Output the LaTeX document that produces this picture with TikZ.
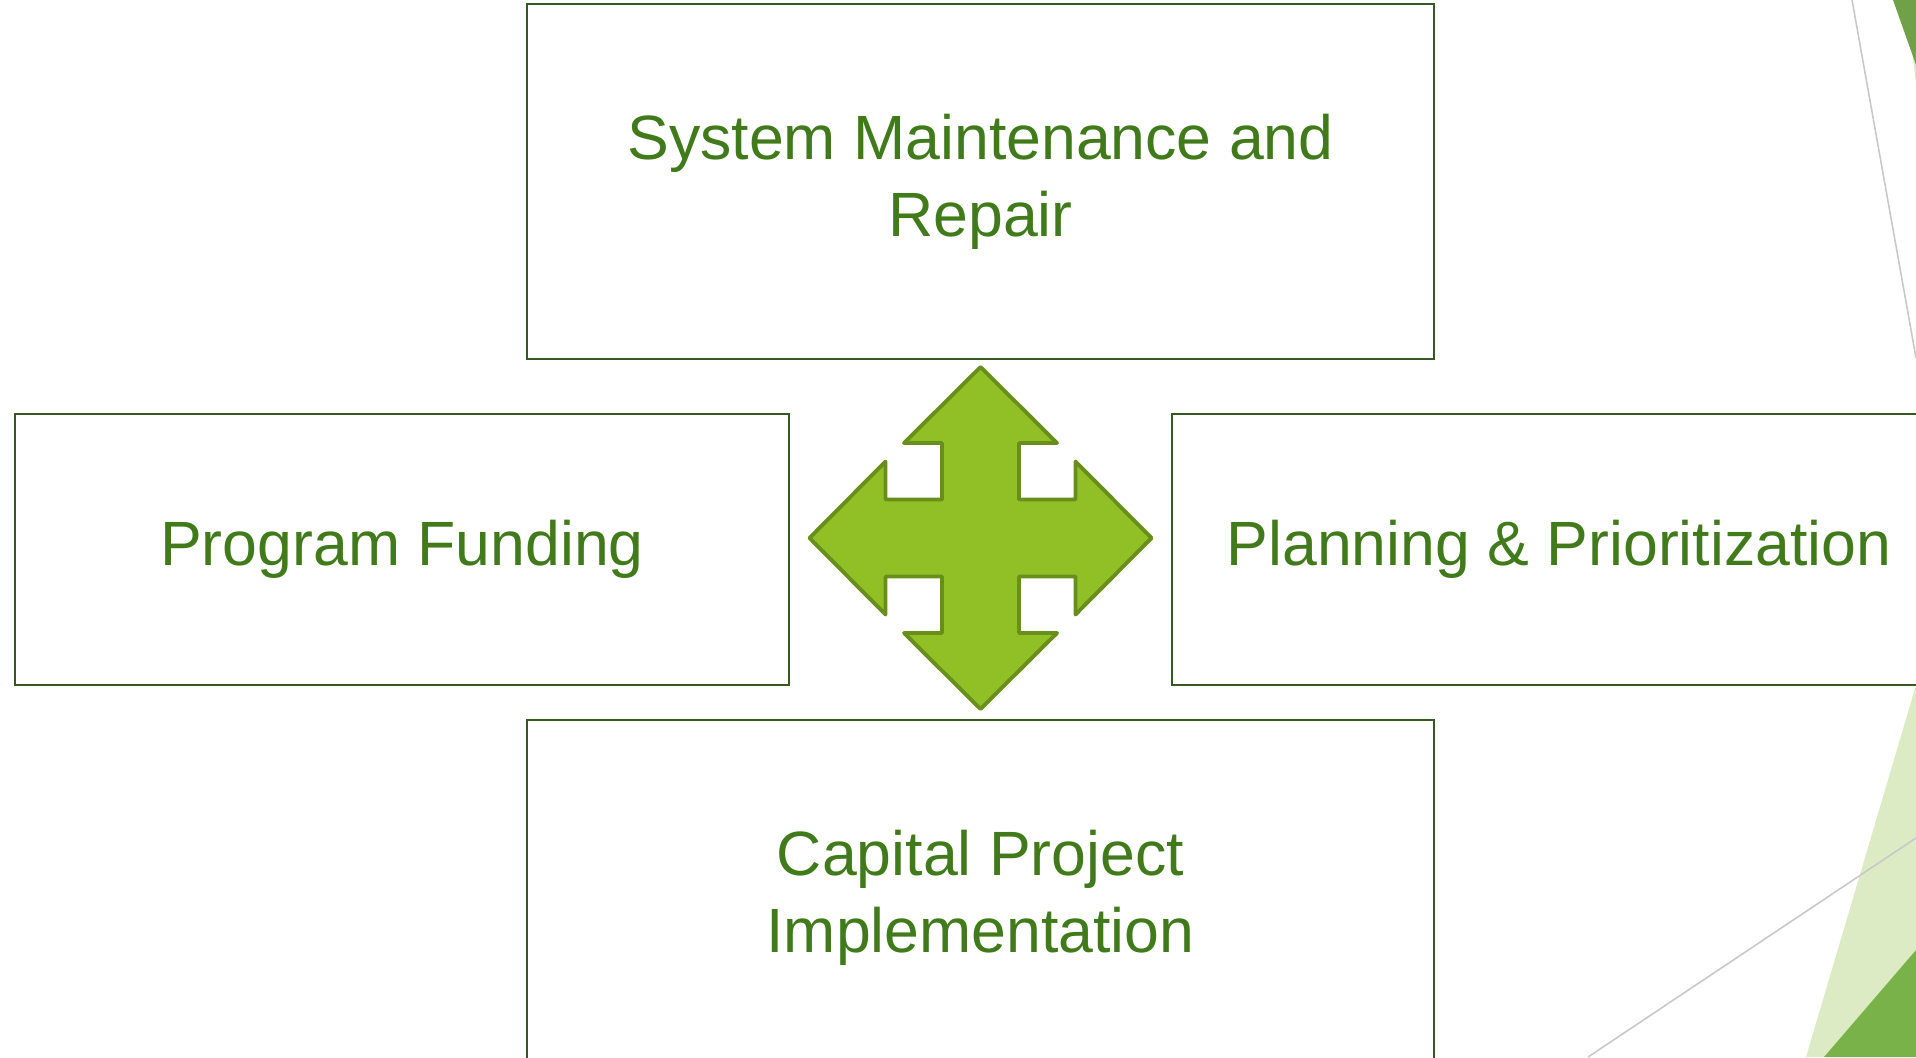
\documentclass[tikz,border=0pt]{standalone}
\usepackage{fontspec}
\setmainfont{Liberation Sans}
\definecolor{txtgreen}{RGB}{64,122,26}
\definecolor{boxgreen}{RGB}{56,87,35}
\definecolor{arrfill}{RGB}{145,192,38}
\definecolor{arrline}{RGB}{104,142,28}
\definecolor{facetdark}{RGB}{122,178,74}
\definecolor{facettop}{RGB}{112,160,72}
\definecolor{facetlight}{RGB}{221,235,196}
\definecolor{facetline}{RGB}{200,200,200}

\begin{document}
\begin{tikzpicture}[x=0.01cm, y=-0.01cm,
    box/.style = {draw=boxgreen, line width=0.6pt, text=txtgreen, align=center,
                  font=\fontsize{17.8}{22}\selectfont, inner sep=0pt},
    bigbox/.style = {box, minimum width=9.07cm, minimum height=3.55cm},
    sidebox/.style = {box, minimum width=7.74cm, minimum height=2.71cm}]
    \useasboundingbox (0,0) rectangle (1916,1057);
    \clip (0,0) rectangle (1916,1057);

    \fill[facetlight] (1905,0) -- (1916,82) -- (1916,0) -- cycle;
    \fill[facettop]   (1893,0) -- (1916,65) -- (1916,0) -- cycle;
    \fill[facetlight] (1916,685) -- (1806,1057) -- (1916,1057) -- cycle;
    \fill[facetdark]  (1916,950) -- (1824,1057) -- (1916,1057) -- cycle;
    \draw[facetline, line width=0.45pt] (1852,0) -- (1916,358);
    \draw[facetline, line width=0.45pt] (1916,838) -- (1588,1057);

    \node (sys)  [bigbox]  at (980.5,181.5) {System Maintenance and\\Repair};
    \node (fund) [sidebox] at (402,549.5)   {Program Funding};
    \node (plan) [sidebox] at (1559,549.5)  {Planning \& Prioritization};
    \node (cap)  [bigbox]  at (980.5,897.5) {Capital Project\\Implementation};

    \coordinate (ctr) at (980.5,538);
    \filldraw[fill=arrfill, draw=arrline, line width=1.1pt, line join=round, shift={(ctr)}]
        (0,-171) -- (76.5,-95) -- (38.5,-95) -- (38.5,-38.5) -- (95,-38.5) -- (95,-76.5) -- (171,0)
        -- (95,76.5) -- (95,38.5) -- (38.5,38.5) -- (38.5,95) -- (76.5,95) -- (0,171)
        -- (-76.5,95) -- (-38.5,95) -- (-38.5,38.5) -- (-95,38.5) -- (-95,76.5) -- (-171,0)
        -- (-95,-76.5) -- (-95,-38.5) -- (-38.5,-38.5) -- (-38.5,-95) -- (-76.5,-95) -- cycle;
\end{tikzpicture}
\end{document}
